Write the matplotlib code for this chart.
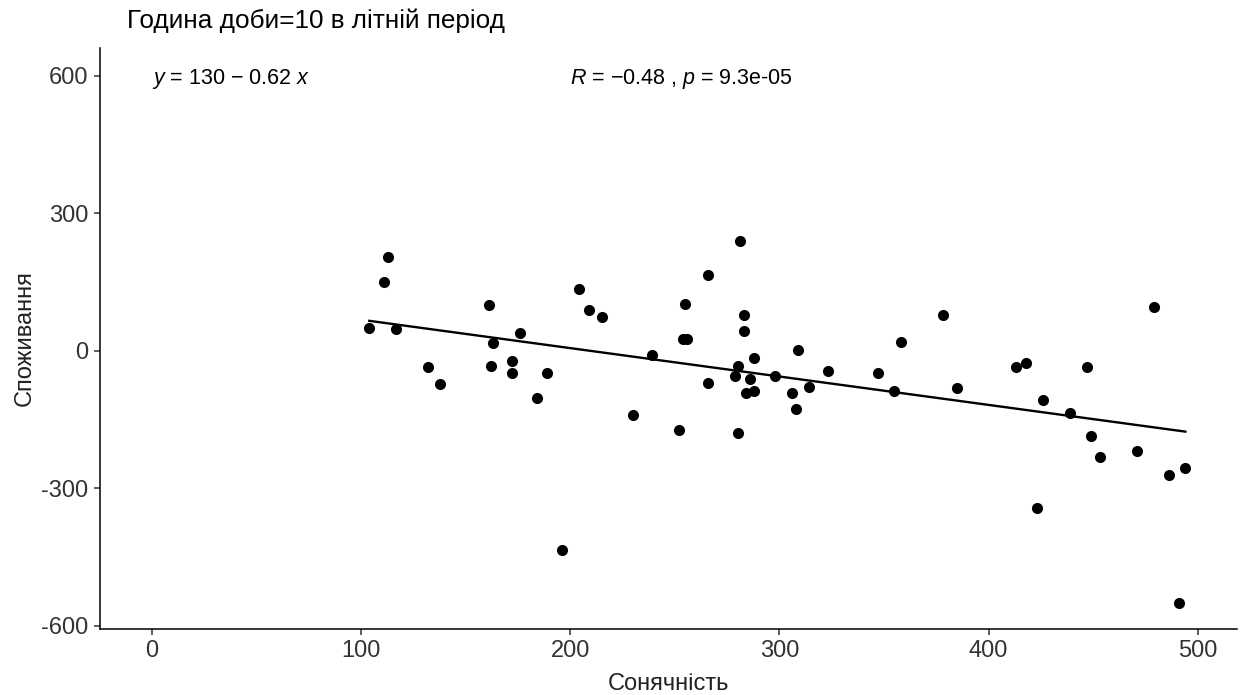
import numpy as np
import matplotlib.pyplot as plt

plt.rcParams['font.family'] = ['Liberation Sans', 'DejaVu Sans']
plt.rcParams['mathtext.fontset'] = 'custom'
plt.rcParams['mathtext.rm'] = 'Liberation Sans'
plt.rcParams['mathtext.it'] = 'Liberation Sans:italic'
plt.rcParams['axes.unicode_minus'] = False

# sunshine (x) vs consumption (y)
sun = [104, 111, 113, 117, 132, 138, 161, 163, 162, 172,
       172, 176, 184, 189, 196, 204, 209, 215, 230, 239,
       252, 255, 254, 256, 266, 266, 281, 280, 283, 283,
       280, 279, 288, 286, 284, 288, 298, 306, 309, 308,
       314, 323, 347, 355, 358, 378, 385, 413, 418, 426,
       439, 447, 449, 453, 471, 479, 486, 494, 423, 491]
cons = [50, 151, 204, 47, -35, -72, 99, 17, -32, -22,
        -49, 40, -104, -49, -434, 135, 90, 73, -140, -9,
        -173, 102, 26, 26, 165, -71, 240, -180, 79, 44,
        -32, -55, -15, -62, -91, -87, -55, -91, 1, -127,
        -78, -45, -49, -87, 20, 79, -81, -36, -26, -107,
        -136, -36, -186, -232, -219, 96, -271, -255, -343, -550]

intercept = 130
slope = -0.62
title = "Година доби=10 в літній період"
eq_label = r"$y$ = 130 − 0.62 $x$"
r_label = r"$R$ = −0.48 , $p$ = 9.3e-05"

fig = plt.figure(figsize=(12.4, 6.95), dpi=100)
ax = fig.add_axes([100 / 1240, (695 - 628.5) / 695, 1137 / 1240, 580.5 / 695])

xs = np.array([min(sun), max(sun)])
ax.plot(xs, intercept + slope * xs, color='black', lw=1.7, zorder=2)
ax.scatter(sun, cons, s=64, color='black', linewidths=0, zorder=3)

ax.text(0, 594, eq_label, fontsize=15.5, va='center', ha='left')
ax.text(200, 594, r_label, fontsize=15.5, va='center', ha='left')

ax.set_xlim(-24.7, 518.7)
ax.set_ylim(-606, 661)
ax.set_xticks([0, 100, 200, 300, 400, 500])
ax.set_yticks([-600, -300, 0, 300, 600])

for side in ['top', 'right']:
    ax.spines[side].set_visible(False)
for side in ['left', 'bottom']:
    ax.spines[side].set_linewidth(1.1)
ax.tick_params(length=4.5, width=1.1, color='#333333', labelsize=17,
               labelcolor='#333333', pad=4)

ax.set_xlabel("Сонячність", fontsize=17, labelpad=8, color='#222222')
ax.set_ylabel("Споживання", fontsize=17, labelpad=4, color='#222222')
fig.text(127 / 1240, 1 - 21 / 695, title, fontsize=18.8, va='center', ha='left')

fig.savefig('out.png', dpi=100)
